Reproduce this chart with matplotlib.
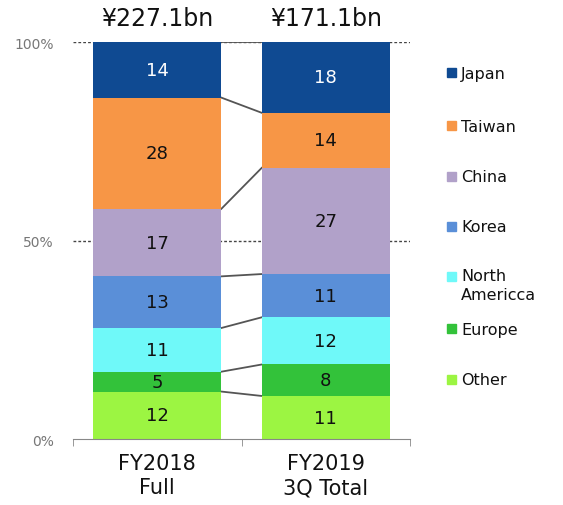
import numpy as np
import matplotlib
matplotlib.use("Agg")
import matplotlib.pyplot as plt
from matplotlib.patches import Rectangle

periods = ["FY2018\nFull", "FY2019\n3Q Total"]
totals = ["¥227.1bn", "¥171.1bn"]
regions = ["Other", "Europe", "North\nAmericca", "Korea", "China", "Taiwan", "Japan"]
fy2018 = [12, 5, 11, 13, 17, 28, 14]
fy2019 = [11, 8, 12, 11, 27, 14, 18]
colors = ["#9cf542", "#33c23a", "#6ff9f9", "#5a8fd8", "#b1a1c9", "#f79646", "#0f4a92"]

plt.rcParams['font.family'] = ['DejaVu Sans']

fig = plt.figure(figsize=(5.63, 5.06), dpi=100)
ax = fig.add_axes([0.130, 0.130, 0.598, 0.785])

data = np.array([fy2018, fy2019], dtype=float)
shares = data / data.sum(axis=1, keepdims=True) * 100
x = np.arange(len(periods))
w = 0.76

# dashed grid sits behind the bars
for yv in (50, 100):
    ax.axhline(yv, color="#444444", lw=1, ls=(0, (2, 1.5)), zorder=0)

bottom = np.zeros(len(periods))
for i, reg in enumerate(regions):
    ax.bar(x, shares[:, i], w, bottom=bottom, color=colors[i], zorder=2)
    for j in range(len(periods)):
        txt_col = "white" if reg == "Japan" else "#111111"
        ax.text(x[j], bottom[j] + shares[j, i] / 2, str(int(data[j, i])),
                ha="center", va="center", fontsize=13, color=txt_col, zorder=3)
    bottom = bottom + shares[:, i]
    # connector between the two bars
    ax.plot([x[0] + w / 2, x[1] - w / 2], [bottom[0], bottom[1]],
            color="#555555", lw=1.3, zorder=1)

for j in range(len(periods)):
    ax.text(x[j], 103, totals[j], ha="center", va="bottom", fontsize=17, color="#111111")

ax.set_xlim(-0.5, 1.5)
ax.set_ylim(0, 100)
ax.set_yticks([0, 50, 100])
ax.set_yticklabels(["0%", "50%", "100%"], color="#777777", fontsize=10)
ax.tick_params(axis="y", length=0, pad=14)
ax.set_xticks(x)
ax.set_xticklabels(periods, fontsize=15, color="#111111", linespacing=1.25)
ax.set_xticks([-0.5, 0.5, 1.5], minor=True)
ax.tick_params(axis="x", which="major", length=0, pad=10)
ax.tick_params(axis="x", which="minor", length=5, color="#888888")
for s in ("top", "right", "left"):
    ax.spines[s].set_visible(False)
ax.spines["bottom"].set_color("#888888")

# hand-placed legend (uneven spacing as in the original)
legend_y = [381, 330, 278, 228, 178, 127, 74]
W, H = 563.0, 506.0
for reg, col, yp in zip(regions, colors, legend_y):
    fig.add_artist(Rectangle((447 / W, 1 - (yp + 4) / H), 9 / W, 9 / H,
                             transform=fig.transFigure, color=col))
    if "\n" in reg:
        fig.text(461 / W, 1 - (yp - 9) / H, reg, ha="left", va="top",
                 fontsize=11.5, color="#111111", linespacing=1.3)
    else:
        fig.text(461 / W, 1 - yp / H, reg, ha="left", va="center",
                 fontsize=11.5, color="#111111")

fig.savefig("out.png", dpi=100)
